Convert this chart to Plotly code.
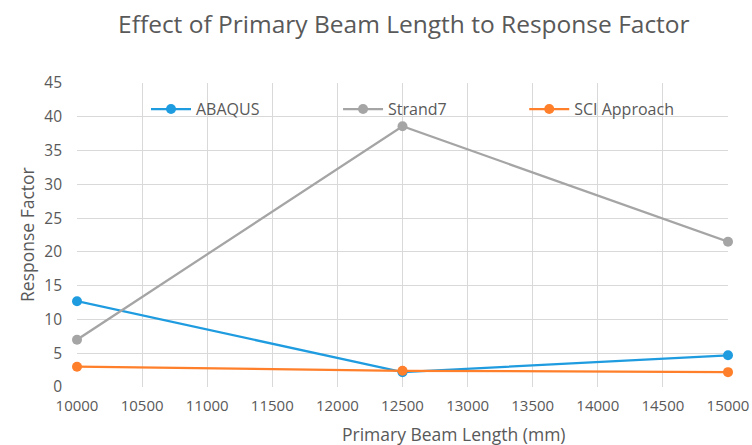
import plotly.graph_objects as go

# Response factor versus primary beam length for three analysis methods
beam_length = [10000, 12500, 15000]
abaqus = [12.7, 2.2, 4.7]
strand7 = [7.0, 38.6, 21.5]
sci_approach = [3.0, 2.4, 2.2]

x_ticks = list(range(10000, 15001, 500))
x_tick_text = [str(v) for v in x_ticks]
y_ticks = list(range(0, 46, 5))

FONT = "Open Sans"
TEXT = "#595959"
GRID = "#d9d9d9"

series = [
    ("ABAQUS", abaqus, "#1f9ce0", "legend", 0.106),
    ("Strand7", strand7, "#a5a5a5", "legend2", 0.401),
    ("SCI Approach", sci_approach, "#ff7f2a", "legend3", 0.687),
]

fig = go.Figure()
legends = {}
for name, vals, color, leg, lx in series:
    fig.add_trace(go.Scatter(
        x=beam_length, y=vals, name=name, mode="lines+markers",
        line=dict(color=color, width=2.25),
        marker=dict(color=color, size=10),
        legend=leg, showlegend=True, cliponaxis=False,
    ))
    legends[leg] = dict(orientation="h", yanchor="middle", y=0.914,
                        xanchor="left", x=lx, bgcolor="rgba(0,0,0,0)",
                        itemwidth=40, visible=True,
                        font=dict(family=FONT, size=16, color=TEXT))

fig.update_layout(
    width=752, height=445,
    margin=dict(l=77, r=24, t=83, b=58),
    paper_bgcolor="white", plot_bgcolor="white",
    showlegend=True,
    title=dict(text="Effect of Primary Beam Length to Response Factor",
               x=0.537, xanchor="center", y=0.946, yanchor="middle",
               font=dict(family=FONT, size=24.5, color=TEXT)),
    xaxis=dict(range=[10000, 15000], tickvals=x_ticks, ticktext=x_tick_text,
               showgrid=True, gridcolor=GRID, gridwidth=1, zeroline=False,
               showline=False, ticks="", ticklabelstandoff=8, automargin=False,
               tickfont=dict(family=FONT, size=15, color=TEXT)),
    yaxis=dict(range=[0, 45], tickvals=y_ticks, showgrid=True,
               gridcolor=GRID, gridwidth=1, zeroline=False, showline=False,
               ticks="", ticklabelstandoff=14, automargin=False,
               tickfont=dict(family=FONT, size=15.5, color=TEXT)),
    annotations=[
        dict(text="Primary Beam Length (mm)", xref="paper", yref="paper",
             x=(454 - 77) / 651, y=-(434 - 387) / 304, xanchor="center",
             yanchor="middle", showarrow=False,
             font=dict(family=FONT, size=17.5, color=TEXT)),
        dict(text="Response Factor", xref="paper", yref="paper",
             x=-(77 - 27) / 651, y=0.5, xanchor="center", yanchor="middle",
             textangle=-90, showarrow=False,
             font=dict(family=FONT, size=17.5, color=TEXT)),
    ],
    **legends,
)

fig.write_html("out.html")
